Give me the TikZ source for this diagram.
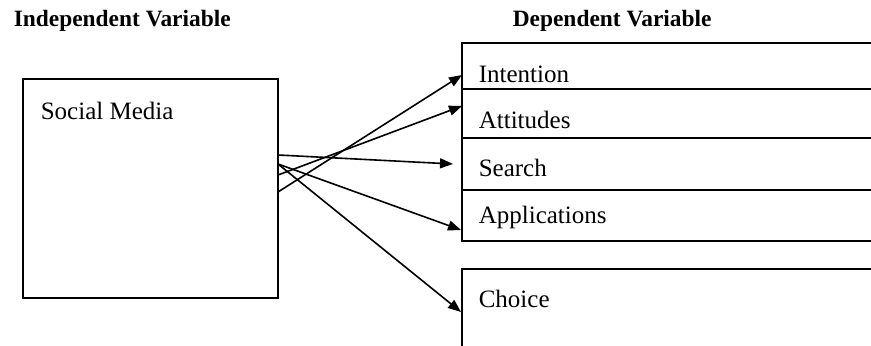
\documentclass[tikz,border=0pt]{standalone}
\usepackage{fontspec}
\setmainfont{Liberation Serif}
\usepackage{tikz}
\usetikzlibrary{arrows.meta}

\tikzset{
  heading/.style={anchor=base west,inner sep=0pt,font=\fontsize{11.7}{14}\selectfont\bfseries},
  label/.style={anchor=base west,inner sep=0pt,font=\fontsize{12.5}{15}\selectfont},
  link/.style={-{Triangle[length=6.5pt,width=5pt]}}
}

\begin{document}
\begin{tikzpicture}[x=0.5pt,y=-0.5pt,line width=0.8pt]
\useasboundingbox (0,0) rectangle (871,346);
% headings
\node (iv) at (13,27) [heading] {Independent Variable};
\node (dv) at (512,27) [heading] {Dependent Variable};
% left box
\draw (23,79) rectangle (278,298);
\node (sm) at (40,120) [label] {Social Media};
% right column
\draw (890,43) -- (462,43) -- (462,241) -- (890,241);
\draw (462,89) -- (890,89);
\draw (462,138) -- (890,138);
\draw (462,190) -- (890,190);
\draw (890,269) -- (462,269) -- (462,360);
\node (int) at (478,83) [label] {Intention};
\node (att) at (478,129) [label] {Attitudes};
\node (sea) at (478,177) [label] {Search};
\node (app) at (478,224) [label] {Applications};
\node (cho) at (478,308) [label] {Choice};
% arrow ends
\coordinate (s1) at (278,155);
\coordinate (s2) at (278,164);
\coordinate (s3) at (278,175);
\coordinate (s4) at (278,192);
\coordinate (e1) at (462,75);
\coordinate (e2) at (462,106);
\coordinate (e3) at (453,164);
\coordinate (e4) at (461,230);
\coordinate (e5) at (461,312);
\draw [link] (s4) -- (e1);
\draw [link] (s3) -- (e2);
\draw [link] (s1) -- (e3);
\draw [link] (s2) -- (e4);
\draw [link] (s2) -- (e5);
\end{tikzpicture}
\end{document}
